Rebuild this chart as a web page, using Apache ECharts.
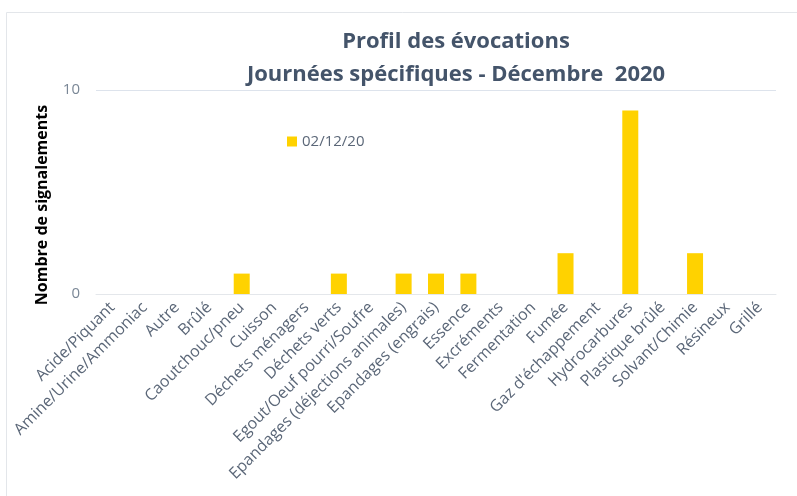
<!DOCTYPE html>
<html>
<head>
<meta charset="utf-8">
<script src="https://cdn.jsdelivr.net/npm/echarts@6/dist/echarts.min.js"></script>
<style>
  html, body { margin: 0; padding: 0; background: #fff; }
  #chart { width: 797px; height: 496px; }
</style>
</head>
<body>
<div id="chart"></div>
<script>
// categories and counts for the single day
const categories = [
    'Acide/Piquant', 'Amine/Urine/Ammoniac', 'Autre', 'Brûlé', 'Caoutchouc/pneu',
    'Cuisson', 'Déchets ménagers', 'Déchets verts', 'Egout/Oeuf pourri/Soufre',
    'Epandages (déjections animales)', 'Epandages (engrais)', 'Essence', 'Excréments',
    'Fermentation', 'Fumée', "Gaz d'échappement", 'Hydrocarbures', 'Plastique brûlé',
    'Solvant/Chimie', 'Résineux', 'Grillé'
];
const seriesName = '02/12/20';
const counts = [0, 0, 0, 0, 1, 0, 0, 1, 0, 1, 1, 1, 0, 0, 2, 0, 9, 0, 2, 0, 0];
const yTicks = [0, 10];

const labelColor = '#5b6778';
const font = '"Open Sans", "Noto Sans", sans-serif';

const myChart = echarts.init(document.getElementById('chart'));
const option = {
    animation: false,
    graphic: [{
        type: 'rect',
        shape: { x: 6.5, y: 12.5, width: 820, height: 520 },
        style: { fill: 'none', stroke: '#e3e6ea', lineWidth: 1 },
        silent: true
    }],
    title: {
        text: 'Profil des évocations\nJournées spécifiques - Décembre  2020',
        left: 451,
        textAlign: 'center',
        top: 20,
        textStyle: {
            fontFamily: font,
            fontSize: 22,
            fontWeight: 'bold',
            color: '#44546a',
            lineHeight: 33
        }
    },
    legend: {
        data: [seriesName],
        left: 282,
        top: 129,
        itemWidth: 10,
        itemHeight: 10,
        itemGap: 5,
        icon: 'rect',
        textStyle: { fontFamily: font, fontSize: 15, color: '#5b6778' }
    },
    grid: {
        left: 96,
        right: 21,
        top: 90,
        bottom: 202,
        containLabel: false
    },
    xAxis: {
        type: 'category',
        data: categories,
        axisLine: { show: true, lineStyle: { color: '#e4e7eb', width: 1 } },
        axisTick: { show: false },
        axisLabel: {
            interval: 0,
            rotate: 45,
            margin: 11,
            fontFamily: font,
            fontSize: 16,
            color: labelColor
        }
    },
    yAxis: {
        type: 'value',
        min: yTicks[0],
        max: yTicks[yTicks.length - 1],
        interval: 10,
        name: 'Nombre de signalements',
        nameLocation: 'middle',
        nameGap: 46,
        nameTextStyle: {
            fontFamily: font,
            fontSize: 16,
            fontWeight: 'bold',
            color: '#000',
            padding: [0, 26, 0, 0]
        },
        axisLine: { show: false },
        axisTick: { show: false },
        axisLabel: {
            margin: 16,
            fontFamily: font,
            fontSize: 15,
            color: '#7a8796'
        },
        splitLine: { lineStyle: { color: '#dde3ec', width: 1 } }
    },
    series: [{
        name: seriesName,
        type: 'bar',
        data: counts,
        barWidth: 16,
        itemStyle: { color: '#ffd200' }
    }]
};
myChart.setOption(option);
</script>
</body>
</html>
